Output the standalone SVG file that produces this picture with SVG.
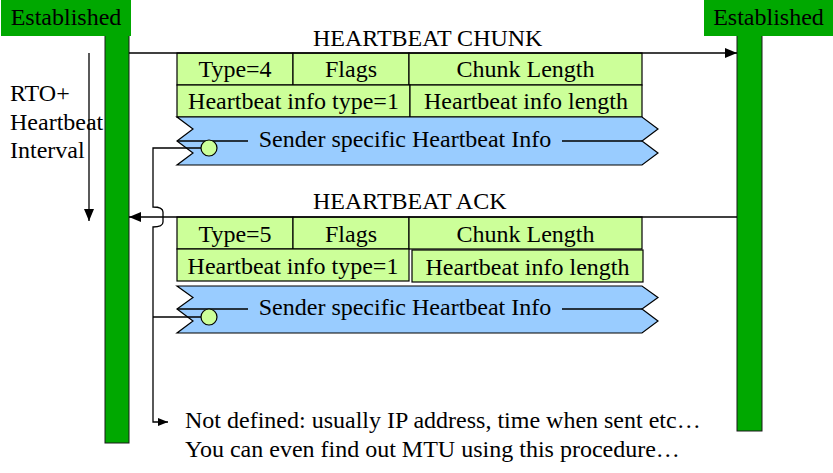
<svg xmlns="http://www.w3.org/2000/svg" width="833" height="473" viewBox="0 0 833 473">
<style>
text{font-family:'Liberation Serif','DejaVu Serif',serif;font-size:24px;fill:#000}
.m{text-anchor:middle}
.bar{fill:#00A800;stroke:#1a1a1a;stroke-width:1}
.hdr{fill:#00A800}
.cell{fill:#CCFF99;stroke:#000;stroke-width:1.2}
.ban{fill:#99CCFF;stroke:#000;stroke-width:1.2}
.ln{fill:none;stroke:#000;stroke-width:1.3}
.dot{fill:#CCFF99;stroke:#000;stroke-width:1.2}
</style>
<defs>
<marker id="ah" markerWidth="12" markerHeight="10" refX="12" refY="5" orient="auto" markerUnits="userSpaceOnUse">
<path d="M0,0 L12,5 L0,10 Z" fill="#000"/>
</marker>
<marker id="ahs" markerWidth="10" markerHeight="8" refX="10" refY="4" orient="auto" markerUnits="userSpaceOnUse">
<path d="M0,0 L10,4 L0,8 Z" fill="#000"/>
</marker>
</defs>

<g id="endpoint-left">
<rect class="bar" x="105" y="35" width="24" height="408"/>
<rect class="hdr" x="1" y="0" width="130" height="36"/>
<text class="m" x="66" y="25">Established</text>
</g>

<g id="endpoint-right">
<rect class="bar" x="737" y="35" width="25" height="396"/>
<rect class="hdr" x="704" y="0" width="129" height="36"/>
<text class="m" x="768.5" y="25">Established</text>
</g>

<g id="interval-label">
<text x="10" y="101">RTO+</text>
<text x="10" y="130">Heartbeat</text>
<text x="10" y="158">Interval</text>
</g>

<g id="heartbeat-chunk">
<rect class="cell" x="177" y="53" width="116" height="32"/>
<rect class="cell" x="293" y="53" width="116" height="32"/>
<rect class="cell" x="409" y="53" width="233" height="32"/>
<rect class="cell" x="177" y="85" width="233" height="32"/>
<rect class="cell" x="410" y="85" width="232" height="32"/>
<text class="m" x="235" y="77">Type=4</text>
<text class="m" x="351" y="77">Flags</text>
<text class="m" x="525.5" y="77">Chunk Length</text>
<text class="m" x="293.5" y="109">Heartbeat info type=1</text>
<text class="m" x="526" y="109">Heartbeat info length</text>
<path class="ban" d="M177,117 H642 L658,129 L642,141 L658,153 L642,165 H177 L193,153 L177,141 L193,129 Z"/>
<path class="ln" d="M177,141 H248 M562,141 H642"/>
<text class="m" x="405" y="147">Sender specific Heartbeat Info</text>
<circle class="dot" cx="209" cy="148" r="8"/>
</g>

<g id="heartbeat-ack">
<rect class="cell" x="177" y="217" width="116" height="32"/>
<rect class="cell" x="293" y="217" width="116" height="32"/>
<rect class="cell" x="409" y="217" width="233" height="32"/>
<rect class="cell" x="177" y="249" width="232" height="32"/>
<rect class="cell" x="412" y="250" width="231" height="32"/>
<text class="m" x="235" y="242">Type=5</text>
<text class="m" x="351" y="242">Flags</text>
<text class="m" x="525.5" y="242">Chunk Length</text>
<text class="m" x="293" y="274">Heartbeat info type=1</text>
<text class="m" x="527.5" y="275">Heartbeat info length</text>
<path class="ban" d="M177,286 H642 L658,297.5 L642,309 L658,321 L642,333 H177 L193,321 L177,309 L193,297.5 Z"/>
<path class="ln" d="M177,309 H248 M562,309 H642"/>
<text class="m" x="405" y="315">Sender specific Heartbeat Info</text>
<circle class="dot" cx="209" cy="317" r="8"/>
</g>

<g id="note">
<text x="185" y="428">Not defined: usually IP address, time when sent etc…</text>
<text x="185" y="457">You can even find out MTU using this procedure…</text>
</g>

<g id="connectors">
<line class="ln" x1="129" y1="53" x2="737" y2="53" marker-end="url(#ah)"/>
<text x="313" y="46">HEARTBEAT CHUNK</text>
<line class="ln" x1="737" y1="217" x2="129" y2="217" marker-end="url(#ah)"/>
<text x="313" y="209">HEARTBEAT ACK</text>
<line class="ln" x1="89" y1="53" x2="89" y2="221" marker-end="url(#ah)"/>
<path class="ln" d="M201,148 H153 V207 Q163,207 163,212 V222 Q163,227 153,227 V422 H168" marker-end="url(#ahs)"/>
<path class="ln" d="M201,317 H153"/>
</g>
</svg>
